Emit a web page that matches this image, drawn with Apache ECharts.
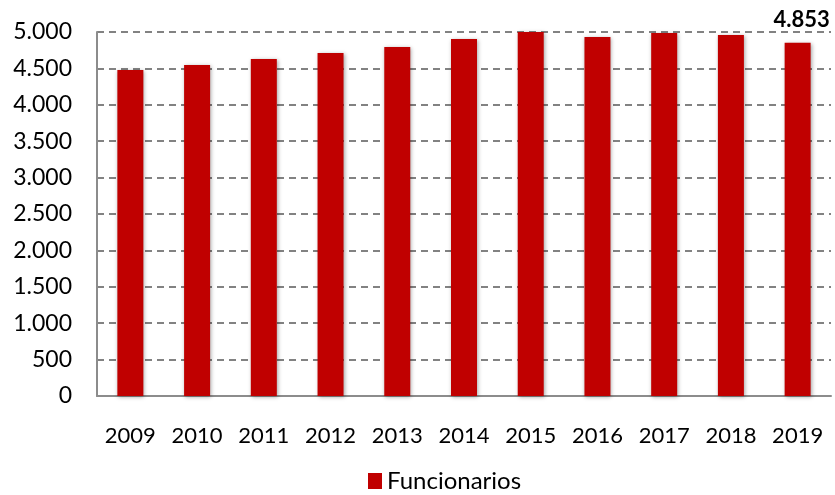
<!DOCTYPE html>
<html><head><meta charset="utf-8">
<script src="https://cdn.jsdelivr.net/npm/echarts@6/dist/echarts.min.js"></script>
<style>html,body{margin:0;padding:0;background:#fff}#c{width:835px;height:495px}</style>
</head><body><div id="c"></div>
<script>
const categories = ['2009','2010','2011','2012','2013','2014','2015','2016','2017','2018','2019'];
const funcionarios = [4478, 4548, 4628, 4712, 4794, 4904, 5010, 4931, 4986, 4959, 4853];
const seriesName = 'Funcionarios';
const yTicks = { min: 0, max: 5000, interval: 500 };

const fmt = v => String(v).replace(/\B(?=(\d{3})+(?!\d))/g, '.');
const lastIdx = funcionarios.length - 1;
const chart = echarts.init(document.getElementById('c'));
chart.setOption({
  animation: false,
  textStyle: { fontFamily: 'Lato' },
  grid: { left: 97, right: 4, top: 32, bottom: 99, containLabel: false },
  legend: {
    bottom: 2, left: 368, padding: 0, itemWidth: 14, itemHeight: 16, itemGap: 8, icon: 'rect',
    textStyle: { fontFamily: 'Lato', fontSize: 24, color: '#000' },
    data: [seriesName]
  },
  xAxis: {
    type: 'category', data: categories,
    axisLine: { lineStyle: { color: '#8c8c8c', width: 2 } },
    axisTick: { show: false },
    axisLabel: { fontFamily: 'Lato', fontSize: 22, color: '#000', margin: 29 }
  },
  yAxis: {
    type: 'value', min: yTicks.min, max: yTicks.max, interval: yTicks.interval,
    axisLine: { show: true, lineStyle: { color: '#8c8c8c', width: 2 } },
    axisTick: { show: false },
    splitLine: { lineStyle: { color: '#595959', width: 1.5, type: [7, 5] } },
    axisLabel: { fontFamily: 'Lato', fontSize: 23, color: '#000', margin: 25, formatter: fmt }
  },
  series: [{
    name: seriesName, type: 'bar', barWidth: 26, z: 3,
    itemStyle: { color: '#C00000', shadowColor: 'rgba(0,0,0,0.35)', shadowBlur: 4, shadowOffsetX: 1, shadowOffsetY: 1 },
    data: funcionarios.map((v, i) => i === lastIdx ? {
      value: v,
      label: { show: true, position: 'top', distance: 12, fontFamily: 'Lato', fontWeight: 'bold', fontSize: 22, color: '#000', formatter: p => fmt(p.value), offset: [4, 0] }
    } : v)
  }]
});
</script></body></html>
